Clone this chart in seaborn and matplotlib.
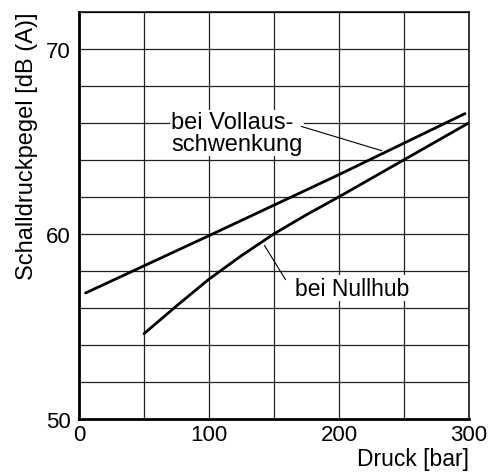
import matplotlib.pyplot as plt
import seaborn as sns
import pandas as pd

sns.set_theme(style="white")
plt.rcParams["font.family"] = ["Liberation Sans", "DejaVu Sans"]
plt.rcParams["text.color"] = "black"
plt.rcParams["axes.labelcolor"] = "black"
plt.rcParams["xtick.color"] = "black"
plt.rcParams["ytick.color"] = "black"

# values
druck_voll = [5, 100, 200, 297]
pegel_voll = [56.8, 59.9, 63.2, 66.5]
druck_null = [50, 75, 100, 125, 150, 175, 200, 250, 300]
pegel_null = [54.6, 56.1, 57.55, 58.82, 60.0, 61.03, 62.0, 64.0, 66.0]

voll = pd.DataFrame({"druck": druck_voll, "pegel": pegel_voll})
null = pd.DataFrame({"druck": druck_null, "pegel": pegel_null})

fig, ax = plt.subplots(figsize=(4.91, 4.77), dpi=100)
fig.subplots_adjust(left=0.161, right=0.955, top=0.973, bottom=0.12)

sns.lineplot(data=voll, x="druck", y="pegel", color="black", lw=2, ax=ax)
sns.lineplot(data=null, x="druck", y="pegel", color="black", lw=2, ax=ax)

ax.set_xlim(0, 300)
ax.set_ylim(50, 72)
ax.set_xticks([0, 100, 200, 300])
ax.set_xticks(range(0, 301, 50), minor=True)
ax.set_yticks([50, 60, 70])
ax.set_yticks(range(50, 73, 2), minor=True)
ax.set_axisbelow(True)
ax.grid(True, which="both", color="#222222", lw=0.9)
ax.tick_params(which="both", length=0, labelsize=16, pad=4)
ax.tick_params(axis="y", pad=6)

for side in ["top", "right"]:
    ax.spines[side].set_linewidth(1.1)
    ax.spines[side].set_color("black")
for side in ["left", "bottom"]:
    ax.spines[side].set_linewidth(2)
    ax.spines[side].set_color("black")

ax.set_xlabel("Druck [bar]", loc="right", fontsize=16.5, labelpad=1)
ax.set_ylabel("Schalldruckpegel [dB (A)]", loc="top", fontsize=17, labelpad=6)

box = dict(facecolor="white", edgecolor="none", pad=1)
ax.text(71, 65.45, "bei Vollaus-\nschwenkung", fontsize=17, va="center",
        ha="left", linespacing=1.0, bbox=box, zorder=3)
ax.annotate("", xy=(235, 64.45), xytext=(169, 65.85),
            arrowprops=dict(arrowstyle="-", lw=0.8, color="black"))
ax.text(166, 57.05, "bei Nullhub", fontsize=16.5, va="center", ha="left",
        bbox=box, zorder=3)
ax.annotate("", xy=(141.5, 59.5), xytext=(160, 57.4),
            arrowprops=dict(arrowstyle="-", lw=0.8, color="black"))

fig.savefig("out.png", dpi=100)
